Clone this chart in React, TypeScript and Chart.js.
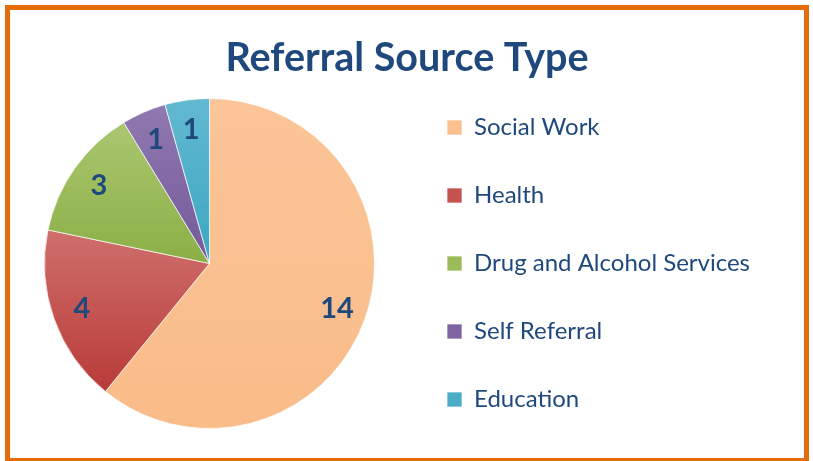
import React, { useEffect, useRef } from "react";
import { Chart, registerables } from "chart.js";

Chart.register(...registerables);

const TITLE = "Referral Source Type";
const categories = ["Social Work", "Health", "Drug and Alcohol Services", "Self Referral", "Education"];
const counts = [14, 4, 3, 1, 1];
const baseColors = ["#FAC090", "#C4524F", "#9BBB59", "#8064A2", "#4BACC6"];
const lightColors = ["#FBC598", "#CF6F6C", "#AAC770", "#9079B0", "#62B9D0"];
const darkColors = ["#F9BC89", "#B83B38", "#8BAF46", "#74599A", "#3DA6C2"];

const TEXT_COLOR = "#1F497D";
const FONT = "Lato, 'Open Sans', sans-serif";

const titlePlugin = {
  id: "centeredTitle",
  afterDraw(chart: any) {
    const ctx = chart.ctx;
    ctx.save();
    ctx.font = `bold 39.5px ${FONT}`;
    ctx.fillStyle = TEXT_COLOR;
    ctx.textAlign = "center";
    ctx.textBaseline = "middle";
    ctx.fillText(TITLE, chart.width / 2, 48);
    ctx.restore();
  },
};

const gradientPlugin = {
  id: "sliceGradient",
  beforeDatasetsDraw(chart: any) {
    const meta = chart.getDatasetMeta(0);
    const ctx = chart.ctx;
    meta.data.forEach((arc: any, i: number) => {
      const { x, y, startAngle, endAngle, outerRadius } = arc.getProps(
        ["x", "y", "startAngle", "endAngle", "outerRadius"],
        true
      );
      let minY = y;
      let maxY = y;
      const consider = (a: number) => {
        const py = y + Math.sin(a) * outerRadius;
        minY = Math.min(minY, py);
        maxY = Math.max(maxY, py);
      };
      consider(startAngle);
      consider(endAngle);
      for (let k = -2; k <= 2; k++) {
        const top = -Math.PI / 2 + 2 * Math.PI * k;
        const bot = Math.PI / 2 + 2 * Math.PI * k;
        if (top >= startAngle && top <= endAngle) consider(top);
        if (bot >= startAngle && bot <= endAngle) consider(bot);
      }
      if (maxY - minY < 1) maxY = minY + 1;
      const g = ctx.createLinearGradient(0, minY, 0, maxY);
      g.addColorStop(0, lightColors[i]);
      g.addColorStop(1, darkColors[i]);
      arc.options = Object.assign({}, arc.options, { backgroundColor: g });
    });
  },
};

const labelPlugin = {
  id: "sliceLabels",
  afterDatasetsDraw(chart: any) {
    const meta = chart.getDatasetMeta(0);
    const ctx = chart.ctx;
    ctx.save();
    ctx.font = `bold 29px ${FONT}`;
    ctx.fillStyle = TEXT_COLOR;
    ctx.textAlign = "center";
    ctx.textBaseline = "middle";
    meta.data.forEach((arc: any, i: number) => {
      const { x, y, startAngle, endAngle, outerRadius } = arc.getProps(
        ["x", "y", "startAngle", "endAngle", "outerRadius"],
        true
      );
      const mid = (startAngle + endAngle) / 2;
      const r = outerRadius * 0.82;
      ctx.fillText(String(counts[i]), x + Math.cos(mid) * r, y + Math.sin(mid) * r);
    });
    ctx.restore();
  },
};

export default function App() {
  const canvasRef = useRef<HTMLCanvasElement | null>(null);

  useEffect(() => {
    if (!canvasRef.current) return;
    const chart = new Chart(canvasRef.current, {
      type: "pie",
      data: {
        labels: categories,
        datasets: [
          {
            data: counts,
            backgroundColor: baseColors,
            borderColor: "rgba(255,255,255,0.7)",
            borderWidth: 1,
            radius: 165,
          } as any,
        ],
      },
      options: {
        responsive: false,
        animation: false,
        layout: { padding: { left: 6, right: 44, top: 59, bottom: 0 } },
        plugins: {
          title: { display: false },
          legend: {
            position: "right",
            align: "center",
            fullSize: false,
            labels: {
              boxWidth: 15,
              boxHeight: 15,
              padding: 44,
              color: TEXT_COLOR,
              font: { family: FONT, size: 24 },
            },
          },
          tooltip: { enabled: false },
        },
      },
      plugins: [gradientPlugin, labelPlugin, titlePlugin],
    });
    return () => chart.destroy();
  }, []);

  return (
    <div
      style={{
        position: "fixed",
        left: 5,
        top: 5,
        width: 804,
        height: 458,
        border: "5px solid #E46C0A",
        boxSizing: "border-box",
        background: "#fff",
      }}
    >
      <canvas ref={canvasRef} width={794} height={448} style={{ display: "block" }} />
    </div>
  );
}
